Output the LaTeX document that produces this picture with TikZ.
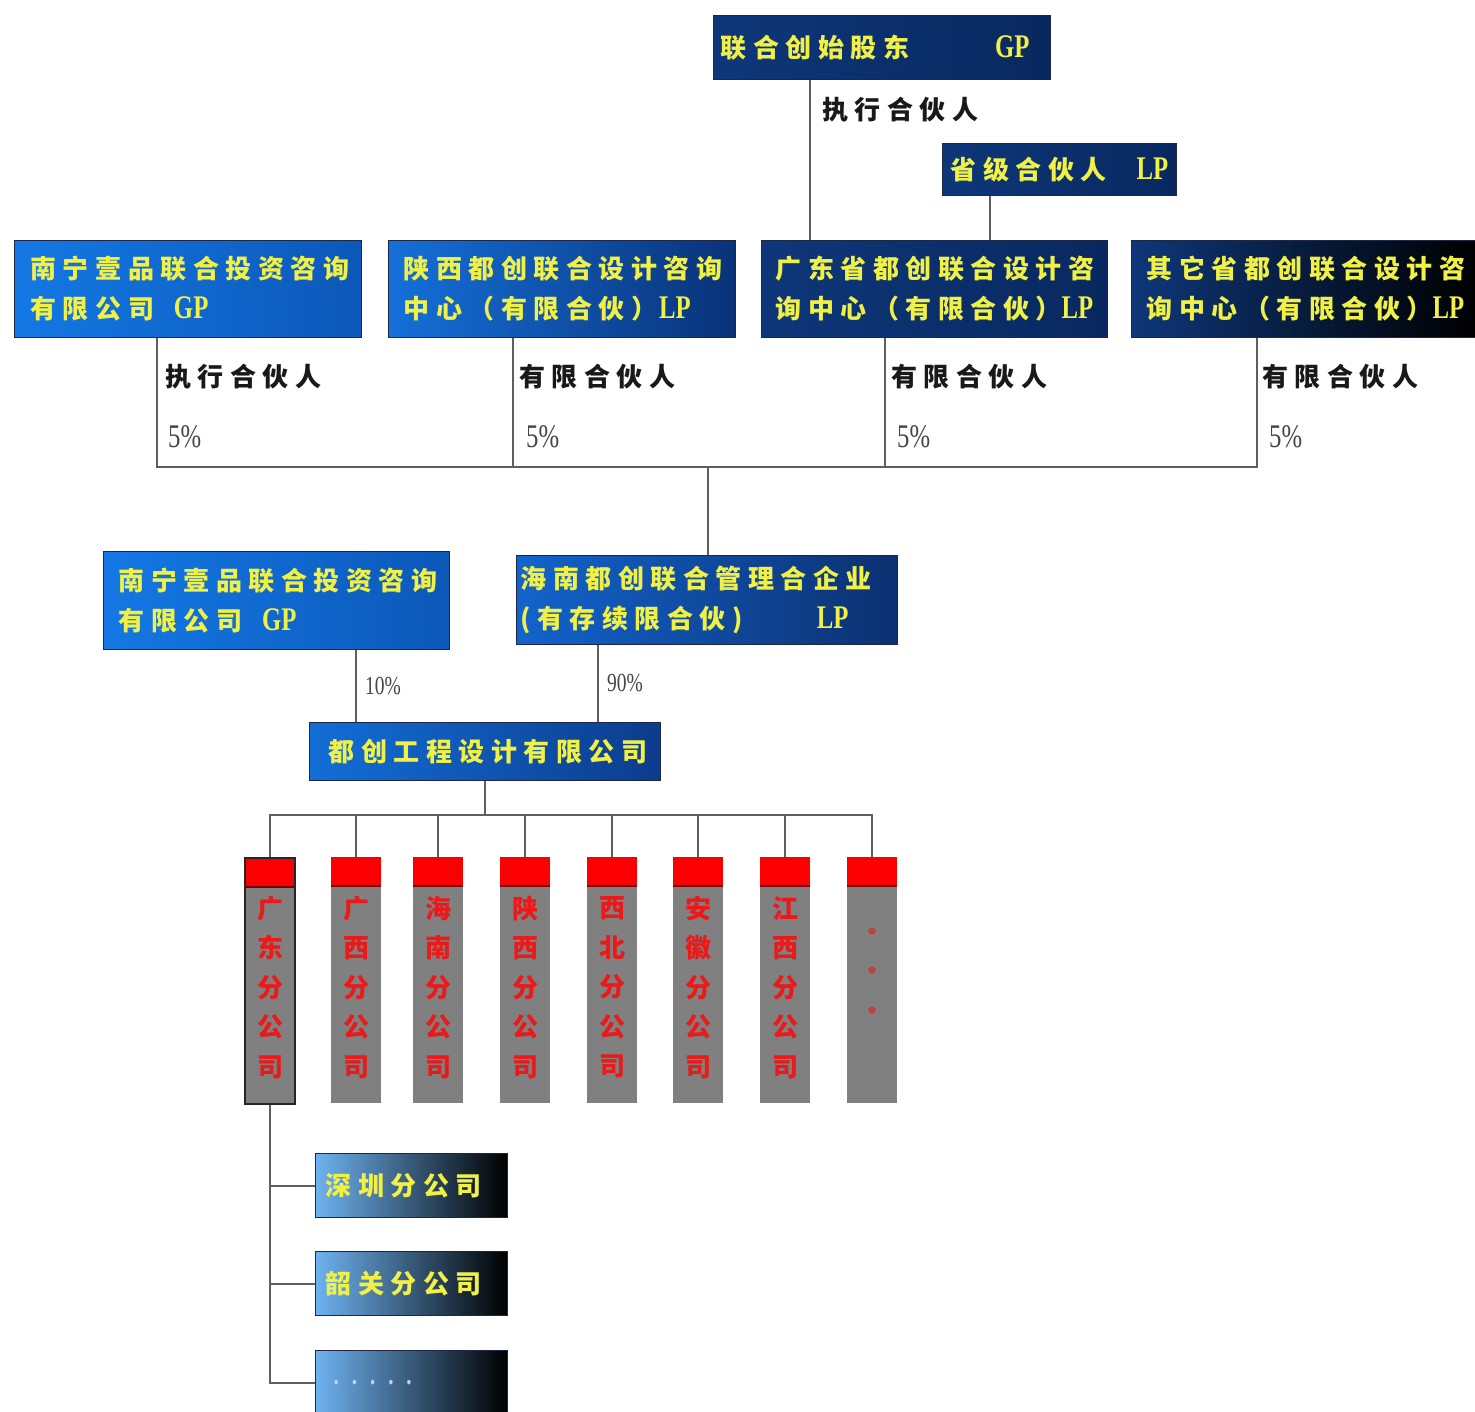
\documentclass[tikz,border=0pt]{standalone}
\usepackage{fontspec}
\newfontfamily\cjk[LetterSpace=25]{Noto Sans CJK SC}
\newfontfamily\cjkn{Noto Sans CJK SC}
\newfontfamily\lat[FakeStretch=0.75]{Liberation Serif}
\usetikzlibrary{calc}
\definecolor{ylw}{RGB}{240,240,70}
\definecolor{lncol}{RGB}{95,95,95}
\definecolor{edge}{RGB}{30,40,70}
\definecolor{nnL}{RGB}{20,120,228}
\definecolor{nnR}{RGB}{12,88,185}
\definecolor{sxL}{RGB}{20,112,218}
\definecolor{sxR}{RGB}{10,50,120}
\definecolor{navL}{RGB}{14,55,122}
\definecolor{navR}{RGB}{8,40,95}
\definecolor{qtM}{RGB}{8,30,72}
\definecolor{hnL}{RGB}{18,100,205}
\definecolor{hnR}{RGB}{12,48,112}
\definecolor{dcL}{RGB}{18,110,215}
\definecolor{dcR}{RGB}{12,60,140}
\definecolor{btL}{RGB}{110,178,240}
\definecolor{btM}{RGB}{30,70,140}
\definecolor{colgray}{RGB}{128,128,128}
\definecolor{coltop}{RGB}{250,0,0}
\definecolor{coltxt}{RGB}{235,25,25}
\definecolor{lbltxt}{RGB}{25,25,25}
\definecolor{pcttxt}{RGB}{70,70,70}
\definecolor{dotc}{RGB}{200,210,230}
\tikzset{
  bx/.style={draw=edge, line width=1pt, anchor=north west, align=left,
    font=\cjk\bfseries\fontsize{26}{40}\selectfont, text=ylw, inner ysep=0pt},
  ln/.style={draw=lncol, line width=2pt},
  lbl/.style={anchor=west, font=\cjk\bfseries\fontsize{26}{28}\selectfont, text=lbltxt, inner sep=0pt},
  pct/.style={anchor=west, font=\lat\fontsize{33}{34}\selectfont, text=pcttxt, inner sep=0pt},
  pcts/.style={anchor=west, font=\lat\fontsize{26}{28}\selectfont, text=pcttxt, inner sep=0pt},
  colbox/.style={anchor=north, minimum width=50pt, minimum height=246pt, inner sep=0pt, fill=colgray,
    path picture={\fill[coltop] (path picture bounding box.north west) rectangle ([yshift=-29pt]path picture bounding box.north east);
      \draw[red!45!black, line width=1.5pt] ([yshift=-29pt]path picture bounding box.north west) -- ([yshift=-29pt]path picture bounding box.north east);}},
  coltext/.style={align=center, font=\cjkn\bfseries\fontsize{26}{39.5}\selectfont, text=coltxt, inner sep=0pt},
}
\newcommand{\GL}[1]{{\lat\fontsize{33}{34}\selectfont #1}}
\begin{document}
\begin{tikzpicture}[x=1pt,y=-1pt]
\useasboundingbox[fill=white] (0,0) rectangle (1475,1412);

% top level
\node[bx, left color=navL, right color=navR, minimum width=337pt, minimum height=64pt, inner xsep=7pt, text width=323pt] (top) at (713,15) {联合创始股东\hspace{86pt}\GL{GP}};
\node[bx, left color=navL, right color=navR, minimum width=234pt, minimum height=52pt, inner xsep=8pt, text width=218pt] (sj) at (942,143) {省级合伙人\hspace{30pt}\GL{LP}};

% second row
\node[bx, left color=nnL, right color=nnR, minimum width=347pt, minimum height=97pt, inner xsep=16pt, text width=315pt] (nn1) at (14,240) {南宁壹品联合投资咨询\\有限公司\hspace{20pt}\GL{GP}};
\node[bx, left color=sxL, right color=sxR, minimum width=347pt, minimum height=97pt, inner xsep=15pt, text width=317pt] (sx) at (388,240) {陕西都创联合设计咨询\\中心（有限合伙）\hspace{2pt}\GL{LP}};
\node[bx, left color=navL, right color=navR, minimum width=346pt, minimum height=97pt, inner xsep=14pt, text width=318pt] (gd) at (761,240) {广东省都创联合设计咨\\询中心（有限合伙）\GL{LP}};
\node[bx, left color=navL, middle color=qtM, right color=black, minimum width=344pt, minimum height=97pt, inner xsep=15pt, text width=314pt] (qt) at (1131,240) {其它省都创联合设计咨\\询中心（有限合伙）\GL{LP}};

% labels
\node[lbl] (l0) at (822,110) {执行合伙人};
\node[lbl] (l1) at (165,377) {执行合伙人};
\node[lbl] (l2) at (519,377) {有限合伙人};
\node[lbl] (l3) at (891,377) {有限合伙人};
\node[lbl] (l4) at (1262,377) {有限合伙人};
\node[pct] (p1) at (168,437) {5\%};
\node[pct] (p2) at (526,437) {5\%};
\node[pct] (p3) at (897,437) {5\%};
\node[pct] (p4) at (1269,437) {5\%};

% third row
\node[bx, left color=nnL, right color=nnR, minimum width=346pt, minimum height=98pt, inner xsep=15pt, text width=316pt] (nn2) at (103,551) {南宁壹品联合投资咨询\\有限公司\hspace{20pt}\GL{GP}};
\node[bx, left color=hnL, right color=hnR, minimum width=381pt, minimum height=89pt, inner xsep=4pt, text width=373pt] (hn) at (516,555) {海南都创联合管理合企业\\(有存续限合伙)\hspace{74pt}\GL{LP}};
\node[pcts] (p10) at (365,686) {10\%};
\node[pcts] (p90) at (607,683) {90\%};

% company
\node[bx, left color=dcL, right color=dcR, minimum width=351pt, minimum height=58pt, inner xsep=0pt, text width=351pt, align=center] (dc) at (309,722) {\hspace{6pt}都创工程设计有限公司};

% columns
\node[colbox, draw=black!85, line width=2pt] (c1) at (270,857) {};
\node[colbox] (c2) at (356,857) {};
\node[colbox] (c3) at (438,857) {};
\node[colbox] (c4) at (525,857) {};
\node[colbox] (c5) at (612,857) {};
\node[colbox] (c6) at (698,857) {};
\node[colbox] (c7) at (785,857) {};
\node[colbox] (c8) at (872,857) {};
\node[coltext] (t1) at (270,987.5) {广\\东\\分\\公\\司};
\node[coltext] (t2) at (356,987.5) {广\\西\\分\\公\\司};
\node[coltext] (t3) at (438,987.5) {海\\南\\分\\公\\司};
\node[coltext] (t4) at (525,987.5) {陕\\西\\分\\公\\司};
\node[coltext] (t5) at (612,987.5) {西\\北\\分\\公\\司};
\node[coltext] (t6) at (698,987.5) {安\\徽\\分\\公\\司};
\node[coltext] (t7) at (785,987.5) {江\\西\\分\\公\\司};
\node[coltext, text=red!50!gray] (t8) at (872,974) {·\\·\\·};

% bottom boxes
\node[bx, left color=btL, middle color=btM, right color=black, minimum width=192pt, minimum height=64pt, inner xsep=10pt, text width=172pt] (b1) at (315,1153) {深圳分公司};
\node[bx, left color=btL, middle color=btM, right color=black, minimum width=192pt, minimum height=64pt, inner xsep=10pt, text width=172pt] (b2) at (315,1251) {韶关分公司};
\node[bx, left color=btL, middle color=btM, right color=black, minimum width=192pt, minimum height=64pt, inner xsep=18pt, text width=156pt, text=dotc] (b3) at (315,1350) {{\lat\fontsize{28}{30}\selectfont . . . . .}};

% connectors
\draw[ln] ([xshift=97pt]top.south west) -- ([xshift=49pt]gd.north west);
\draw[ln] ([xshift=48pt]sj.south west) -- ([xshift=229pt]gd.north west);
\coordinate (bus) at (708,467);
\coordinate (d1) at ([xshift=143pt]nn1.south west);
\coordinate (d2) at ([xshift=125pt]sx.south west);
\coordinate (d3) at ([xshift=124pt]gd.south west);
\coordinate (d4) at ([xshift=126pt]qt.south west);
\draw[ln] (d1) |- (bus) -| (d4);
\draw[ln] (d2) -- (d2 |- bus);
\draw[ln] (d3) -- (d3 |- bus);
\draw[ln] (bus) -- (bus |- hn.north);
\draw[ln] ([xshift=253pt]nn2.south west) -- ([xshift=47pt]dc.north west);
\draw[ln] ([xshift=82pt]hn.south west) -- ([xshift=289pt]dc.north west);
\coordinate (bus2) at (485,815);
\draw[ln] (dc.south) -- (dc.south |- bus2);
\draw[ln] (c1.north) |- (bus2) -| (c8.north);
\foreach \c in {c2,c3,c4,c5,c6,c7} \draw[ln] (\c.north) -- (\c.north |- bus2);
\draw[ln] (c1.south) |- (b3.west);
\draw[ln] (c1.south |- b1.west) -- (b1.west);
\draw[ln] (c1.south |- b2.west) -- (b2.west);
\end{tikzpicture}
\end{document}
